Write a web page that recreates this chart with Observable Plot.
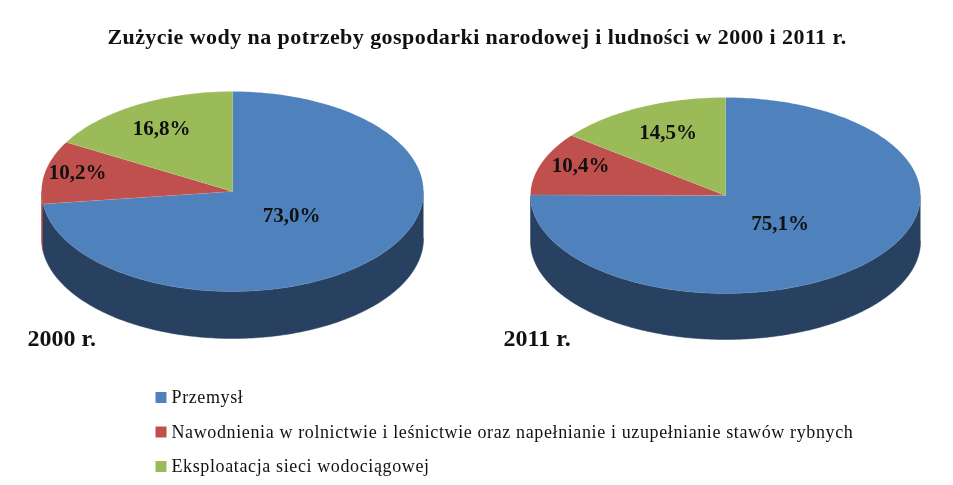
<!DOCTYPE html>
<html lang="pl">
<head>
<meta charset="utf-8">
<script src="https://cdn.jsdelivr.net/npm/d3@7"></script>
<script src="https://cdn.jsdelivr.net/npm/@observablehq/plot@0.6"></script>
<style>
html,body{margin:0;padding:0;background:#fff}
svg{display:block;filter:blur(.45px)}
text{font-family:"Liberation Serif",serif}
.t-title{letter-spacing:.44px}
.t-legend{letter-spacing:.62px}
</style>
</head>
<body>
<div id="chart"></div>
<script>
const titleText = "Zużycie wody na potrzeby gospodarki narodowej i ludności w 2000 i 2011 r.";
const categories = [
  "Przemysł",
  "Nawodnienia w rolnictwie i leśnictwie oraz napełnianie i uzupełnianie stawów rybnych",
  "Eksploatacja sieci wodociągowej"
];
const years = ["2000 r.", "2011 r."];
const values2000 = [73.0, 10.2, 16.8];
const values2011 = [75.1, 10.4, 14.5];
const sliceColors = ["#4f81bd", "#c0504d", "#9bbb59"];
const wallColors = ["#284161", "#a04542", "#7d9a45"];

const W = 953, H = 485;
// layout of each drawn pie (pixels on the page)
const pies = [
  {year: years[0], values: values2000, cx: 232, cy: 191, rx: 191, ry: 100, depth: 47,
   labels: [[291, 215], [77, 172], [161, 128]], yearAt: [27, 338]},
  {year: years[1], values: values2011, cx: 725, cy: 195, rx: 195, ry: 98, depth: 46,
   labels: [[779.5, 223], [580, 165], [667.5, 132]], yearAt: [503, 338]}
];
const fmt = v => v.toFixed(1).replace(".", ",") + "%";

function pt(p, a, dy = 0) {
  return {x: p.cx + p.rx * Math.sin(a), y: p.cy - p.ry * Math.cos(a) + dy};
}
function arc(p, a0, a1, dy = 0) {
  const n = Math.max(2, Math.ceil(Math.abs(a1 - a0) * 60));
  return d3.range(n + 1).map(i => pt(p, a0 + (a1 - a0) * i / n, dy));
}

const slices = [], walls = [], labels = [], years2 = [];
for (const p of pies) {
  const arcs = d3.pie().sort(null).value(d => d)(p.values);
  arcs.forEach((s, i) => {
    const shape = `${p.year}-${i}`;
    slices.push(...[{x: p.cx, y: p.cy}, ...arc(p, s.startAngle, s.endAngle)]
      .map(q => ({...q, shape, category: categories[i]})));
    labels.push({x: p.labels[i][0], y: p.labels[i][1], text: fmt(p.values[i])});
    // the visible wall: the part of the slice on the front half of the rim
    const a0 = Math.max(s.startAngle, Math.PI / 2), a1 = Math.min(s.endAngle, 3 * Math.PI / 2);
    if (a1 > a0) {
      walls.push(...[...arc(p, a0, a1), ...arc(p, a1, a0, p.depth)]
        .map(q => ({...q, shape, color: wallColors[i]})));
    }
  });
  years2.push({x: p.yearAt[0], y: p.yearAt[1], text: p.year});
}

const legendY = [397, 431.5, 466];
const legend = categories.map((c, i) => ({category: c, y: legendY[i]}));

const plot = Plot.plot({
  width: W, height: H, margin: 0,
  style: {background: "#fff", fontFamily: '"Liberation Serif", serif'},
  x: {domain: [0, W], range: [0, W], axis: null},
  y: {domain: [0, H], range: [0, H], axis: null},
  color: {domain: categories, range: sliceColors},
  marks: [
    wallColors.map(c => Plot.line(walls.filter(d => d.color === c),
      {x: "x", y: "y", z: "shape", fill: c, stroke: c, strokeWidth: 0.5})),
    categories.map((c, i) => Plot.line(slices.filter(d => d.category === c),
      {x: "x", y: "y", z: "shape", fill: sliceColors[i], stroke: "#fff", strokeWidth: 0.5, strokeOpacity: 0.2})),
    Plot.text(labels, {x: "x", y: "y", text: "text", fontSize: 21, fontWeight: "bold", fill: "#111"}),
    Plot.text(years2, {x: "x", y: "y", text: "text", textAnchor: "start", fontSize: 24, fontWeight: "bold", fill: "#111"}),
    Plot.text([titleText], {x: () => 476.5, y: () => 36, text: d => d, fontSize: 22, fontWeight: "bold", fill: "#111", className: "t-title"}),
    Plot.dot(legend, {x: () => 160.5, y: "y", fill: "category", symbol: "square", r: 6.2}),
    Plot.text(legend, {x: () => 171, y: "y", text: "category", textAnchor: "start", fontSize: 18, fill: "#111", className: "t-legend"})
  ]
});
document.getElementById("chart").append(plot);
</script>
</body>
</html>
